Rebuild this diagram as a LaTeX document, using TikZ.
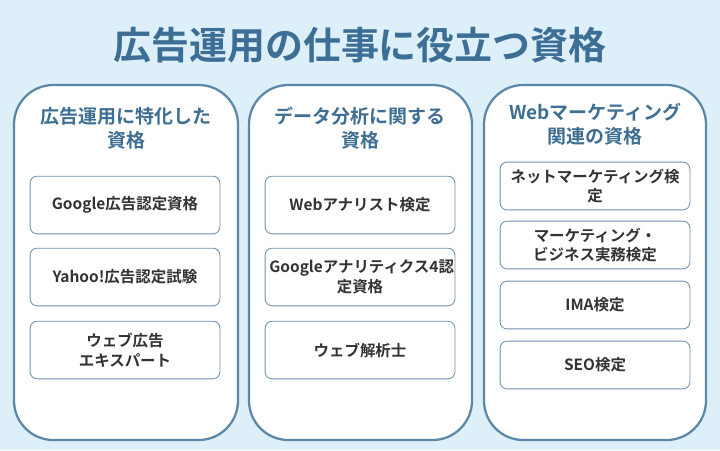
\documentclass[tikz,border=0pt]{standalone}
\usepackage{fontspec}
\setmainfont{Noto Sans CJK JP}[BoldFont={Noto Sans CJK JP Bold}]
\usetikzlibrary{positioning}
\definecolor{bgblue}{HTML}{DDEFF8}
\definecolor{panelline}{HTML}{5B87A8}
\definecolor{headblue}{HTML}{3F6E93}
\definecolor{titleblue}{HTML}{3C6E96}
\definecolor{boxline}{HTML}{6F93B0}
\definecolor{boxtext}{HTML}{333333}
\tikzset{
  panel/.style={draw=panelline, line width=1.6pt, fill=white, rounded corners=28pt},
  head/.style={text=headblue, font=\fontsize{13.5}{17}\selectfont\bfseries, align=center},
  item/.style={draw=boxline, line width=0.6pt, fill=white, rounded corners=5pt,
    inner xsep=3pt, text width=129pt, text=boxtext, align=center,
    font=\fontsize{11}{14}\selectfont\bfseries}
}
\begin{document}
\begin{tikzpicture}[x=0.025cm, y=-0.025cm]
  \fill[bgblue] (0,0) rectangle (720,450);
  \useasboundingbox (0,0) rectangle (720,450);
  \node[text=titleblue, font=\fontsize{27}{32}\selectfont\bfseries] (title) at (360,45) {広告運用の仕事に役立つ資格};

  % panels
  \draw[panel] (14,85) rectangle (238,440);
  \draw[panel] (249,85) rectangle (472,440);
  \draw[panel] (484,85) rectangle (706,440);

  \node[head] (h1) at (126,128) {広告運用に特化した\\資格};
  \node[head] (h2) at (360,128) {データ分析に関する\\資格};
  \node[head] (h3) at (595,124) {Webマーケティング\\関連の資格};

  % first column
  \node[item, minimum height=41pt] (a1) at (125,205) {Google広告認定資格};
  \node[item, minimum height=41pt] (a2) at (125,277) {Yahoo!広告認定試験};
  \node[item, minimum height=41pt] (a3) at (125,350) {ウェブ広告\\エキスパート};

  % second column
  \node[item, minimum height=41pt] (b1) at (360,205) {Webアナリスト検定};
  \node[item, minimum height=41pt] (b2) at (360,277) {Googleアナリティクス4認\\定資格};
  \node[item, minimum height=41pt] (b3) at (360,350) {ウェブ解析士};

  % third column
  \node[item, minimum height=34pt] (c1) at (595,186) {ネットマーケティング検\\定};
  \node[item, minimum height=34pt] (c2) at (595,245) {マーケティング・\\ビジネス実務検定};
  \node[item, minimum height=34pt] (c3) at (595,305) {IMA検定};
  \node[item, minimum height=34pt] (c4) at (595,365) {SEO検定};
\end{tikzpicture}
\end{document}
